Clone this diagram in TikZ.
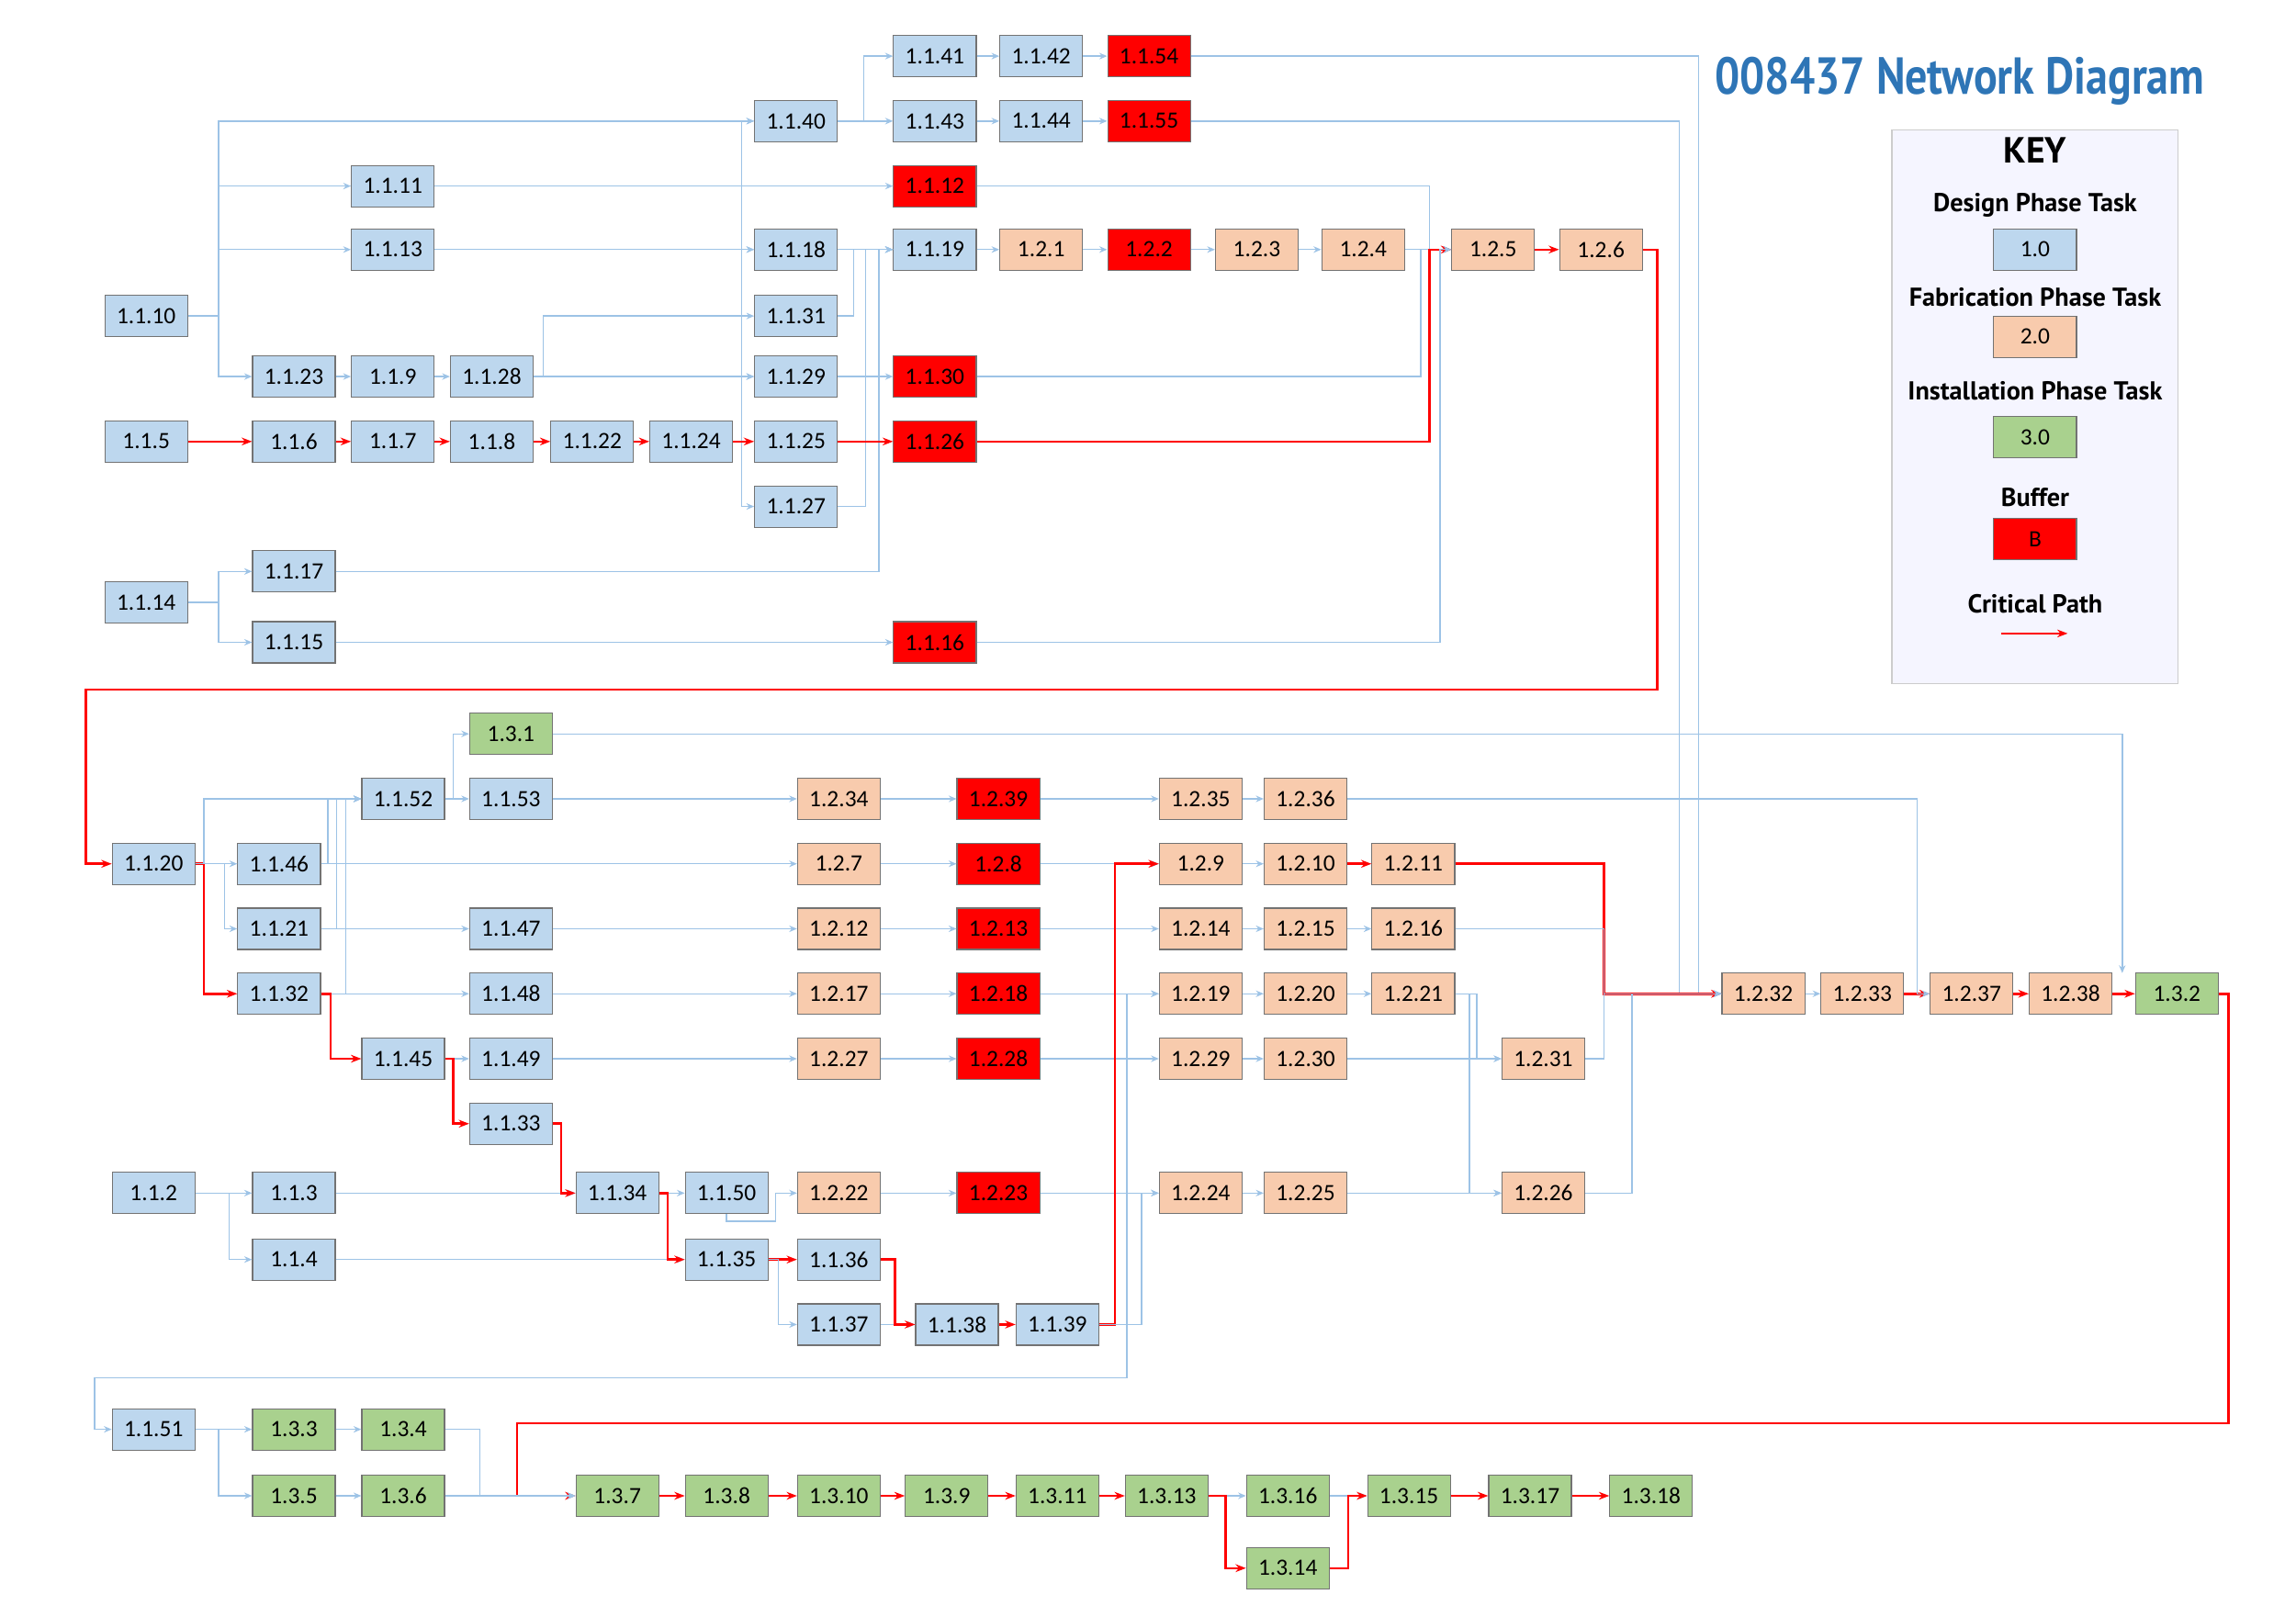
\documentclass[tikz,border=0pt]{standalone}
\usepackage{fontspec}
\setmainfont{Carlito}
\newfontfamily\ttlfont{PT Sans}
\usetikzlibrary{arrows.meta}
\definecolor{bfill}{HTML}{BDD7EE}
\definecolor{ofill}{HTML}{F8CBAD}
\definecolor{gfill}{HTML}{A9D18E}
\definecolor{lnk}{HTML}{9DC3E6}
\definecolor{ttl}{HTML}{2E75B6}
\tikzset{
 box/.style={draw=black!55,minimum width=1.12cm,minimum height=0.56cm,inner sep=0pt,font=\fontsize{9}{10}\selectfont},
 bl/.style={box,fill=bfill},
 orb/.style={box,fill=ofill},
 rdb/.style={box,fill=red},
 grb/.style={box,fill=gfill},
 cl/.style={draw=lnk,line width=0.5pt,-{Stealth[length=3pt,width=2.5pt]}},
 cr/.style={draw=red,line width=0.9pt,-{Stealth[length=4pt,width=3pt]}},
 keyt/.style={font=\ttlfont\bfseries\fontsize{10}{12}\selectfont}
}
\newcommand\cH[5][cl]{\draw[#1] (#2.east) -| (#3*0.02,-#4*0.02) -- (#5.west);}
\begin{document}
\begin{tikzpicture}
\useasboundingbox (0,0) rectangle (31.1,-21.9);
% nodes
\foreach \n/\t/\x/\y in {
1-1-41/1.1.41/633/38,1-1-42/1.1.42/705/38,
1-1-40/1.1.40/539/82,1-1-43/1.1.43/633/82,1-1-44/1.1.44/705/82,
1-1-11/1.1.11/266/126,
1-1-13/1.1.13/266/169,1-1-18/1.1.18/539/169,1-1-19/1.1.19/633/169,
1-1-10/1.1.10/99/214,1-1-31/1.1.31/539/214,
1-1-23/1.1.23/199/255,1-1-9/1.1.9/266/255,1-1-28/1.1.28/333/255,1-1-29/1.1.29/539/255,
1-1-5/1.1.5/99/299,1-1-6/1.1.6/199/299,1-1-7/1.1.7/266/299,1-1-8/1.1.8/333/299,1-1-22/1.1.22/401/299,1-1-24/1.1.24/468/299,1-1-25/1.1.25/539/299,
1-1-27/1.1.27/539/343,1-1-17/1.1.17/199/387,1-1-14/1.1.14/99/408,1-1-15/1.1.15/199/435,
1-1-52/1.1.52/273/541,1-1-53/1.1.53/346/541,
1-1-20/1.1.20/104/585,1-1-46/1.1.46/189/585,
1-1-21/1.1.21/189/629,1-1-47/1.1.47/346/629,
1-1-32/1.1.32/189/673,1-1-48/1.1.48/346/673,
1-1-45/1.1.45/273/717,1-1-49/1.1.49/346/717,
1-1-33/1.1.33/346/761,
1-1-2/1.1.2/104/808,1-1-3/1.1.3/199/808,1-1-34/1.1.34/418/808,1-1-50/1.1.50/492/808,
1-1-4/1.1.4/199/853,1-1-35/1.1.35/492/853,1-1-36/1.1.36/568/853,
1-1-37/1.1.37/568/897,1-1-38/1.1.38/648/897,1-1-39/1.1.39/716/897,
1-1-51/1.1.51/104/968}
 \node[bl] (\n) at (\x*0.02,-\y*0.02) {\t};
\foreach \n/\t/\x/\y in {
1-1-54/1.1.54/778/38,1-1-55/1.1.55/778/82,1-1-12/1.1.12/633/126,1-2-2/1.2.2/778/169,
1-1-30/1.1.30/633/255,1-1-26/1.1.26/633/299,1-1-16/1.1.16/633/435,
1-2-39/1.2.39/676/541,1-2-8/1.2.8/676/585,1-2-13/1.2.13/676/629,1-2-18/1.2.18/676/673,
1-2-28/1.2.28/676/717,1-2-23/1.2.23/676/808}
 \node[rdb] (\n) at (\x*0.02,-\y*0.02) {\t};
\foreach \n/\t/\x/\y in {
1-2-1/1.2.1/705/169,1-2-3/1.2.3/851/169,1-2-4/1.2.4/923/169,1-2-5/1.2.5/1011/169,1-2-6/1.2.6/1084/169,
1-2-34/1.2.34/568/541,1-2-35/1.2.35/813/541,1-2-36/1.2.36/884/541,
1-2-7/1.2.7/568/585,1-2-9/1.2.9/813/585,1-2-10/1.2.10/884/585,1-2-11/1.2.11/957/585,
1-2-12/1.2.12/568/629,1-2-14/1.2.14/813/629,1-2-15/1.2.15/884/629,1-2-16/1.2.16/957/629,
1-2-17/1.2.17/568/673,1-2-19/1.2.19/813/673,1-2-20/1.2.20/884/673,1-2-21/1.2.21/957/673,
1-2-32/1.2.32/1194/673,1-2-33/1.2.33/1261/673,1-2-37/1.2.37/1335/673,1-2-38/1.2.38/1402/673,
1-2-27/1.2.27/568/717,1-2-29/1.2.29/813/717,1-2-30/1.2.30/884/717,1-2-31/1.2.31/1045/717,
1-2-22/1.2.22/568/808,1-2-24/1.2.24/813/808,1-2-25/1.2.25/884/808,1-2-26/1.2.26/1045/808}
 \node[orb] (\n) at (\x*0.02,-\y*0.02) {\t};
\foreach \n/\t/\x/\y in {
1-3-1/1.3.1/346/497,1-3-2/1.3.2/1474/673,1-3-3/1.3.3/199/968,1-3-4/1.3.4/273/968,
1-3-5/1.3.5/199/1013,1-3-6/1.3.6/273/1013,1-3-7/1.3.7/418/1013,1-3-8/1.3.8/492/1013,
1-3-10/1.3.10/568/1013,1-3-9/1.3.9/641/1013,1-3-11/1.3.11/716/1013,1-3-13/1.3.13/790/1013,
1-3-16/1.3.16/872/1013,1-3-15/1.3.15/954/1013,1-3-17/1.3.17/1036/1013,1-3-18/1.3.18/1118/1013,
1-3-14/1.3.14/872/1062}
 \node[grb] (\n) at (\x*0.02,-\y*0.02) {\t};
% title and key
\node[font=\ttlfont\bfseries\fontsize{20}{22}\selectfont,text=ttl,xscale=0.85] (title) at (1327*0.02,-55*0.02) {008437 Network Diagram};
\draw[draw=black!20,fill=blue!4] (1281*0.02,-88*0.02) rectangle (1475*0.02,-463*0.02);
\node[keyt,font=\ttlfont\bfseries\fontsize{14}{16}\selectfont] (kk) at (1378*0.02,-102*0.02) {KEY};
\node[keyt] (k1) at (1378*0.02,-139*0.02) {Design Phase Task};
\node[bl] (kb1) at (1378*0.02,-169*0.02) {1.0};
\node[keyt] (k2) at (1378*0.02,-201*0.02) {Fabrication Phase Task};
\node[orb] (kb2) at (1378*0.02,-228*0.02) {2.0};
\node[keyt] (k3) at (1378*0.02,-265*0.02) {Installation Phase Task};
\node[grb] (kb3) at (1378*0.02,-296*0.02) {3.0};
\node[keyt] (k4) at (1378*0.02,-337*0.02) {Buffer};
\node[rdb] (kb4) at (1378*0.02,-365*0.02) {B};
\node[keyt] (k5) at (1378*0.02,-409*0.02) {Critical Path};
\coordinate (ka) at (1355*0.02,-429*0.02);
\coordinate (kb) at (1400*0.02,-429*0.02);
\draw[cr] (ka) -- (kb);
% ---- top connectors
\cH{1-1-10}{148}{82}{1-1-40}
\cH{1-1-10}{148}{126}{1-1-11}
\cH{1-1-10}{148}{169}{1-1-13}
\cH{1-1-10}{148}{255}{1-1-23}
\cH{1-1-14}{148}{387}{1-1-17}
\cH{1-1-14}{148}{435}{1-1-15}
\cH{1-1-40}{585}{38}{1-1-41}
\draw[cl] (1-1-40) -- (1-1-43);
\draw[cl] (1-1-41) -- (1-1-42); \draw[cl] (1-1-42) -- (1-1-54);
\draw[cl] (1-1-43) -- (1-1-44); \draw[cl] (1-1-44) -- (1-1-55);
\draw[cl] (1-1-54.east) -| (1150*0.02,-673*0.02) -- (1-2-32.west);
\draw[cl] (1-1-55.east) -| (1137*0.02,-673*0.02) -- (1-2-32.west);
\draw[cl] (1-1-11) -- (1-1-12);
\draw[cl] (1-1-12.east) -| (968*0.02,-169*0.02) -- (1-2-5.west);
\draw[cl] (1-1-13) -- (1-1-18);
\cH{1-1-24}{502}{82}{1-1-40}
\cH{1-1-24}{502}{169}{1-1-18}
\cH{1-1-24}{502}{255}{1-1-29}
\cH{1-1-24}{502}{343}{1-1-27}
\cH{1-1-28}{368}{214}{1-1-31}
\draw[cl] (1-1-28) -- (1-1-29);
\draw[cl] (1-1-18) -- (1-1-19);
\cH{1-1-31}{578}{169}{1-1-19}
\cH{1-1-27}{586}{169}{1-1-19}
\cH{1-1-17}{595}{169}{1-1-19}
\draw[cl] (1-1-19) -- (1-2-1); \draw[cl] (1-2-1) -- (1-2-2); \draw[cl] (1-2-2) -- (1-2-3);
\draw[cl] (1-2-3) -- (1-2-4); \draw[cl] (1-2-4) -- (1-2-5);
\draw[cr] (1-2-5) -- (1-2-6);
\draw[cl] (1-1-29) -- (1-1-30);
\cH{1-1-30}{962}{169}{1-2-5}
\cH[cr]{1-1-26}{968}{169}{1-2-5}
\cH{1-1-16}{975}{169}{1-2-5}
\draw[cl] (1-1-15) -- (1-1-16);
\draw[cl] (1-1-23) -- (1-1-9); \draw[cl] (1-1-9) -- (1-1-28);
\foreach \a/\b in {1-1-5/1-1-6,1-1-6/1-1-7,1-1-7/1-1-8,1-1-8/1-1-22,1-1-22/1-1-24,1-1-24/1-1-25,1-1-25/1-1-26}
 \draw[cr] (\a) -- (\b);
\draw[cr] (1-2-6.east) -| (1122*0.02,-467*0.02) -| (58*0.02,-585*0.02) -- (1-1-20.west);
% ---- middle connectors
\cH[cr]{1-1-20}{138}{673}{1-1-32}
\cH{1-1-20}{138}{541}{1-1-52}
\draw[cl] (1-1-20) -- (1-1-46);
\cH{1-1-20}{152}{629}{1-1-21}
\cH{1-1-46}{222}{541}{1-1-52}
\cH{1-1-21}{228}{541}{1-1-52}
\cH{1-1-32}{234}{541}{1-1-52}
\draw[cl] (1-1-46) -- (1-2-7); \draw[cl] (1-2-7) -- (1-2-8); \draw[cl] (1-2-8) -- (1-2-9);
\draw[cl] (1-1-21) -- (1-1-47);
\foreach \a/\b in {1-1-47/1-2-12,1-2-12/1-2-13,1-2-13/1-2-14,1-2-14/1-2-15,1-2-15/1-2-16,
 1-1-32/1-1-48,1-1-48/1-2-17,1-2-17/1-2-18,1-2-18/1-2-19,1-2-19/1-2-20,1-2-20/1-2-21,
 1-1-45/1-1-49,1-1-49/1-2-27,1-2-27/1-2-28,1-2-28/1-2-29,1-2-29/1-2-30,1-2-30/1-2-31,
 1-1-52/1-1-53,1-1-53/1-2-34,1-2-34/1-2-39,1-2-39/1-2-35,1-2-35/1-2-36,
 1-1-2/1-1-3,1-1-3/1-1-34,1-1-34/1-1-50,1-1-4/1-1-35,1-1-37/1-1-38,
 1-2-22/1-2-23,1-2-23/1-2-24,1-2-24/1-2-25,1-2-25/1-2-26,1-2-9/1-2-10,1-2-32/1-2-33}
 \draw[cl] (\a) -- (\b);
\foreach \a/\b in {1-2-10/1-2-11,1-2-33/1-2-37,1-2-37/1-2-38,1-2-38/1-3-2,1-1-35/1-1-36,1-1-38/1-1-39}
 \draw[cr] (\a) -- (\b);
\cH[cr]{1-1-32}{224}{717}{1-1-45}
\cH[cr]{1-1-45}{307}{761}{1-1-33}
\cH[cr]{1-1-33}{380}{808}{1-1-34}
\cH[cr]{1-1-34}{452}{853}{1-1-35}
\cH[cr]{1-1-36}{606}{897}{1-1-38}
\cH[cr]{1-1-39}{755}{585}{1-2-9}
\cH[cr]{1-2-11}{1086}{673}{1-2-32}
\cH{1-1-52}{307}{497}{1-3-1}
\draw[cl] (1-3-1.east) -| (1437*0.02,-659*0.02);
\cH{1-2-36}{1298}{673}{1-2-37}
\cH{1-1-2}{155}{853}{1-1-4}
\draw[cl] (1-1-50.south) |- (525*0.02,-827*0.02) |- (1-2-22.west);
\cH{1-1-35}{527}{897}{1-1-37}
\cH{1-1-39}{763}{673}{1-2-19}
\cH{1-1-39}{773}{808}{1-2-24}
\draw[cl] (1-1-39.east) -| (763*0.02,-933*0.02) -| (64*0.02,-968*0.02) -- (1-1-51.west);
\cH{1-2-21}{1000}{717}{1-2-31}
\cH{1-2-21}{995}{808}{1-2-26}
\cH{1-2-16}{1086}{673}{1-2-32}
\cH{1-2-31}{1086}{673}{1-2-32}
\cH{1-2-26}{1105}{673}{1-2-32}
% ---- bottom connectors
\draw[cr] (1-3-2.east) -| (1509*0.02,-964*0.02) -| (350*0.02,-1013*0.02) -- (1-3-7.west);
\draw[cl] (1-1-51) -- (1-3-3);
\cH{1-1-51}{148}{1013}{1-3-5}
\draw[cl] (1-3-3) -- (1-3-4); \draw[cl] (1-3-5) -- (1-3-6);
\cH{1-3-4}{325}{1013}{1-3-7}
\draw[cl] (1-3-6) -- (1-3-7);
\foreach \a/\b in {1-3-7/1-3-8,1-3-8/1-3-10,1-3-10/1-3-9,1-3-9/1-3-11,1-3-11/1-3-13,1-3-15/1-3-17,1-3-17/1-3-18}
 \draw[cr] (\a) -- (\b);
\draw[cl] (1-3-13) -- (1-3-16);
\draw[cl] (1-3-16) -- (1-3-15);
\cH[cr]{1-3-13}{830}{1062}{1-3-14}
\cH[cr]{1-3-14}{913}{1013}{1-3-15}
\end{tikzpicture}
\end{document}
